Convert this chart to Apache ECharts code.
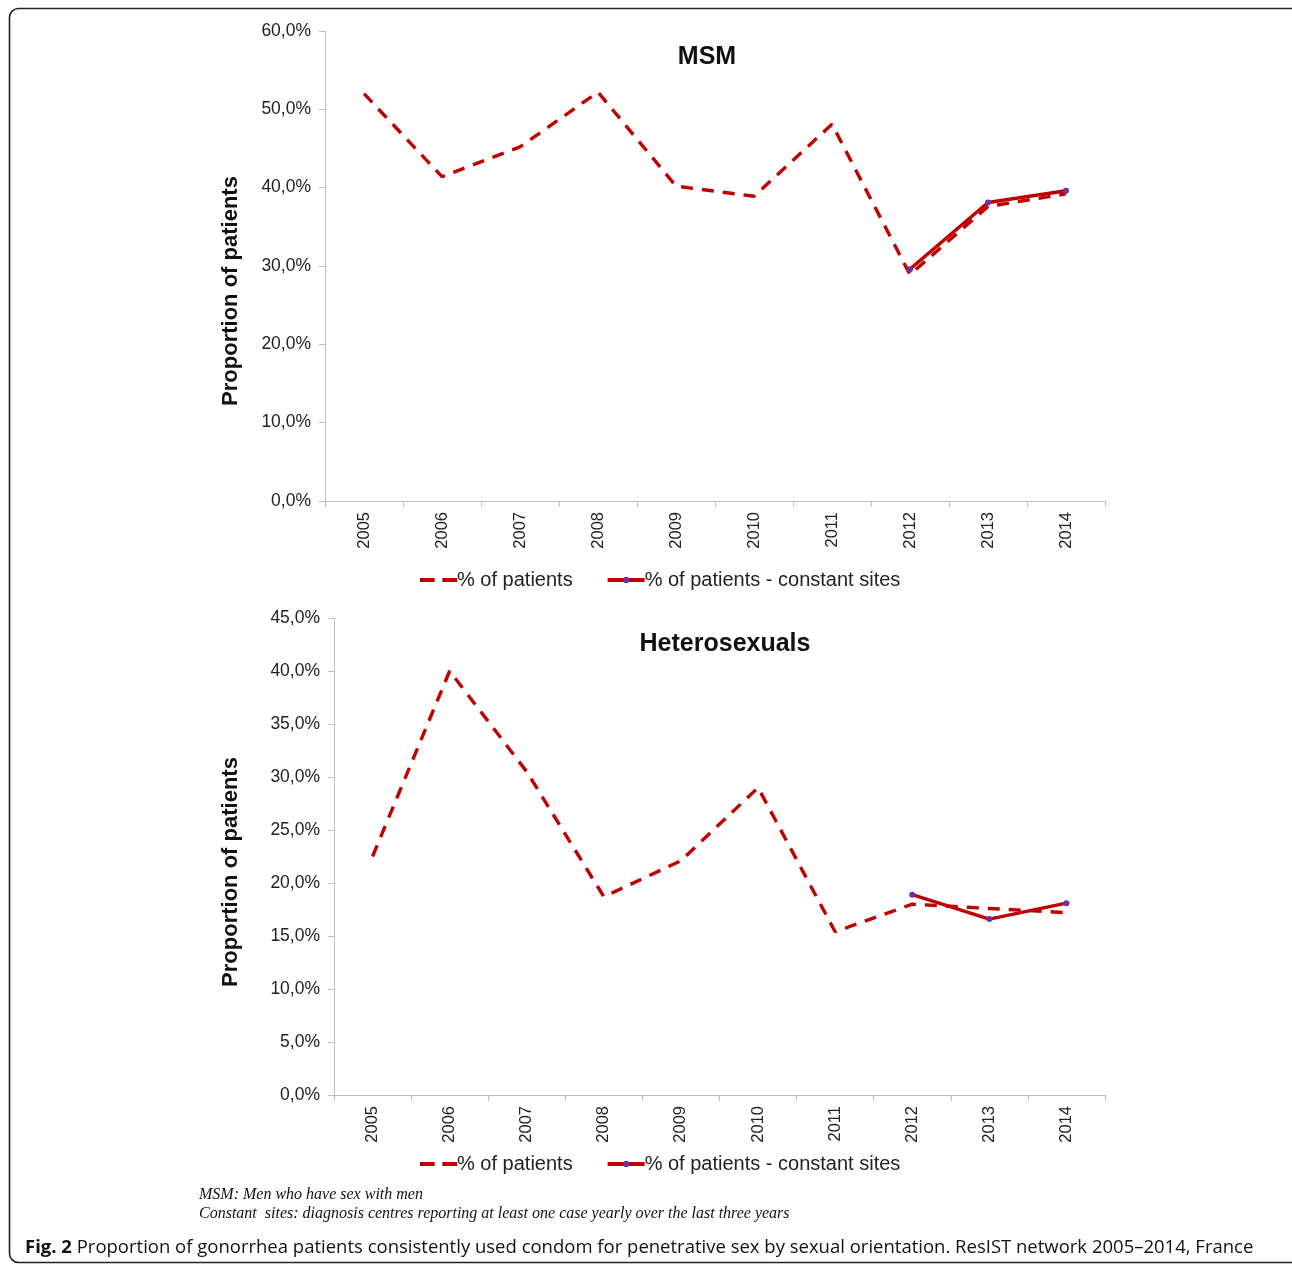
<!DOCTYPE html>
<html>
<head>
<meta charset="utf-8">
<title>Condom use among gonorrhea patients</title>
<script src="https://cdn.jsdelivr.net/npm/echarts@6/dist/echarts.min.js"></script>
<style>
  html, body { margin: 0; padding: 0; background: #ffffff; }
  #chart { width: 1292px; height: 1265px; }
</style>
</head>
<body>
<div id="chart"></div>
<script>
// Survey years
const years = ['2005', '2006', '2007', '2008', '2009', '2010', '2011', '2012', '2013', '2014'];

// MSM: % of patients, all sites / constant sites (2012-2014 only)
const msmAll = [52.0, 41.4, 45.2, 52.2, 40.2, 38.9, 48.1, 28.9, 37.6, 39.2];
const msmConstant = [null, null, null, null, null, null, null, 29.6, 38.1, 39.6];

// Heterosexuals: % of patients, all sites / constant sites
const heteroAll = [22.5, 40.0, 30.5, 18.7, 22.1, 29.0, 15.4, 18.0, 17.6, 17.2];
const heteroConstant = [null, null, null, null, null, null, null, 18.9, 16.6, 18.1];

// Y-axis ranges and steps
const msmAxis = { min: 0, max: 60, interval: 10 };
const heteroAxis = { min: 0, max: 45, interval: 5 };

const seriesNames = ['% of patients', '% of patients - constant sites'];
const yAxisTitle = 'Proportion of patients';

const RED = '#C00000';
const PURPLE = '#7030A0';
const AXIS_GREY = '#bfbfbf';
const FONT = 'Liberation Sans, Arial, sans-serif';

const pct = v => v.toFixed(1).replace('.', ',') + '%';

function xAxisFor(gridIndex) {
  return {
    type: 'category',
    gridIndex: gridIndex,
    data: years,
    boundaryGap: true,
    axisLine: { lineStyle: { color: AXIS_GREY, width: 1 } },
    axisTick: { show: true, alignWithLabel: false, length: 6, lineStyle: { color: AXIS_GREY } },
    axisLabel: { rotate: 90, margin: 11, fontSize: 16.5, color: '#222', fontFamily: FONT, interval: 0 }
  };
}

function yAxisFor(gridIndex, range) {
  return {
    type: 'value',
    gridIndex: gridIndex,
    min: range.min,
    max: range.max,
    interval: range.interval,
    axisLine: { show: true, lineStyle: { color: AXIS_GREY, width: 1 } },
    axisTick: { show: true, length: 6, lineStyle: { color: AXIS_GREY } },
    splitLine: { show: false },
    axisLabel: { margin: 14, fontSize: 17.5, color: '#222', fontFamily: FONT, formatter: pct }
  };
}

function dashedSeries(data, idx) {
  return {
    name: seriesNames[0],
    type: 'line',
    xAxisIndex: idx,
    yAxisIndex: idx,
    data: data,
    symbol: 'none',
    itemStyle: { color: RED },
    lineStyle: { color: RED, width: 3.4, type: [12, 9], cap: 'butt' },
    z: 2
  };
}

function constantSeries(data, idx) {
  return {
    name: seriesNames[1],
    type: 'line',
    xAxisIndex: idx,
    yAxisIndex: idx,
    data: data,
    symbol: 'circle',
    symbolSize: 6,
    showAllSymbol: true,
    connectNulls: false,
    itemStyle: { color: PURPLE },
    lineStyle: { color: RED, width: 3.4, type: 'solid' },
    z: 3
  };
}

// Legend: a two-dash swatch for the dashed series, thick line + dot for the other
const dashIcon = 'path://M0,0H15V4H0Z M23,0H38V4H23Z';

function legendAt(top) {
  return {
    top: top,
    left: 420,
    padding: 0,
    itemWidth: 37,
    itemHeight: 8,
    itemGap: 33,
    textStyle: { fontSize: 20, color: '#222', fontFamily: FONT, padding: [0, 0, 0, -5] },
    data: [
      { name: seriesNames[0], icon: dashIcon, itemStyle: { color: RED } },
      { name: seriesNames[1], lineStyle: { width: 4, color: RED } }
    ]
  };
}

function yTitle(cx, cy) {
  return {
    type: 'text',
    x: cx, y: cy,
    rotation: Math.PI / 2,
    style: {
      text: yAxisTitle,
      fontSize: 22, fontWeight: 'bold', fontFamily: FONT, fill: '#111',
      textAlign: 'center', textVerticalAlign: 'middle'
    },
    silent: true
  };
}

const chart = echarts.init(document.getElementById('chart'), null, { renderer: 'canvas' });

chart.setOption({
  backgroundColor: '#ffffff',
  animation: false,
  title: [
    { text: 'MSM', left: 707, top: 45, textAlign: 'center', padding: 0,
      textStyle: { fontSize: 25, fontWeight: 'bold', color: '#111', fontFamily: FONT } },
    { text: 'Heterosexuals', left: 725, top: 632, textAlign: 'center', padding: 0,
      textStyle: { fontSize: 25, fontWeight: 'bold', color: '#111', fontFamily: FONT } }
  ],
  legend: [legendAt(570), legendAt(1154)],
  grid: [
    { left: 325, top: 31, width: 780, height: 470 },
    { left: 334, top: 618, width: 771, height: 477 }
  ],
  xAxis: [xAxisFor(0), xAxisFor(1)],
  yAxis: [yAxisFor(0, msmAxis), yAxisFor(1, heteroAxis)],
  series: [
    dashedSeries(msmAll, 0),
    constantSeries(msmConstant, 0),
    dashedSeries(heteroAll, 1),
    constantSeries(heteroConstant, 1)
  ],
  graphic: [
    {
      type: 'rect',
      shape: { x: 9.5, y: 8.5, width: 1300, height: 1254, r: 9 },
      style: { fill: 'none', stroke: '#222', lineWidth: 1.6 },
      silent: true
    },
    yTitle(230.5, 291),
    yTitle(230.5, 872),
    {
      type: 'text',
      left: 199, top: 1187,
      style: {
        text: 'MSM: Men who have sex with men',
        font: 'italic 16px "Liberation Serif", "Times New Roman", serif',
        fill: '#111'
      }
    },
    {
      type: 'text',
      left: 199, top: 1206,
      style: {
        text: 'Constant  sites: diagnosis centres reporting at least one case yearly over the last three years',
        font: 'italic 16px "Liberation Serif", "Times New Roman", serif',
        fill: '#111'
      }
    },
    {
      type: 'text',
      left: 25, top: 1238,
      style: {
        text: '{b|Fig. 2} Proportion of gonorrhea patients consistently used condom for penetrative sex by sexual orientation. ResIST network 2005\u20132014, France',
        rich: {
          b: { fontWeight: 'bold', fontSize: 18.5, fontFamily: 'Open Sans, sans-serif', fill: '#111' }
        },
        fontSize: 18.5,
        fontFamily: 'Open Sans, sans-serif',
        fill: '#111'
      }
    }
  ]
});
</script>
</body>
</html>
